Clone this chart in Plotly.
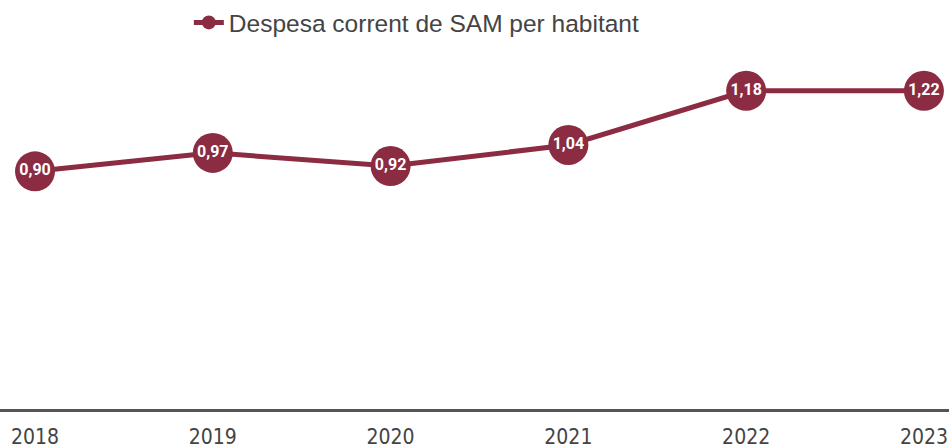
import plotly.graph_objects as go

years = [2018, 2019, 2020, 2021, 2022, 2023]
# vertical positions of the points as drawn in the picture
values = [0.90, 0.97, 0.92, 1.00, 1.205, 1.205]
# printed labels on the points
labels = ["0,90", "0,97", "0,92", "1,04", "1,18", "1,22"]
series_name = "Despesa corrent de SAM per habitant"

color = "#8B2C42"

fig = go.Figure()
fig.add_trace(go.Scatter(
    x=years, y=values, mode="lines+markers+text",
    text=labels, textposition="middle center",
    textfont=dict(family="Roboto", size=16, color="white", weight="bold"),
    line=dict(color=color, width=5),
    marker=dict(size=40, color=color),
    showlegend=False, cliponaxis=False, hoverinfo="skip",
))
fig.add_trace(go.Scatter(
    x=[None], y=[None], mode="lines+markers", name=series_name,
    line=dict(color=color, width=5), marker=dict(size=14, color=color),
))

fig.update_layout(
    width=949, height=448,
    margin=dict(l=0, r=0, t=0, b=39, autoexpand=False),
    paper_bgcolor="white", plot_bgcolor="white",
    showlegend=True,
    legend=dict(orientation="h", x=0.199, y=1.0, xanchor="left", yanchor="top",
                font=dict(family="Liberation Sans", size=24.5, color="#444"),
                bgcolor="rgba(0,0,0,0)"),
    xaxis=dict(range=[2017.803, 2023.141], tickvals=years,
               ticktext=[str(y) for y in years],
               showgrid=False, zeroline=False, automargin=False,
               showline=True, linecolor="#555", linewidth=3,
               ticks="", ticklabelstandoff=7,
               tickfont=dict(family="DejaVu Sans Condensed", size=21, color="#444")),
    yaxis=dict(range=[0, 1.549], visible=False, showgrid=False, zeroline=False,
               automargin=False),
)
fig.write_html("out.html", config={"displayModeBar": False})

with open("out.html", "r", encoding="utf-8") as f:
    html = f.read()
html = html.replace("<head>", "<head><style>html,body{margin:0;padding:0;overflow:hidden}</style>", 1)
with open("out.html", "w", encoding="utf-8") as f:
    f.write(html)
